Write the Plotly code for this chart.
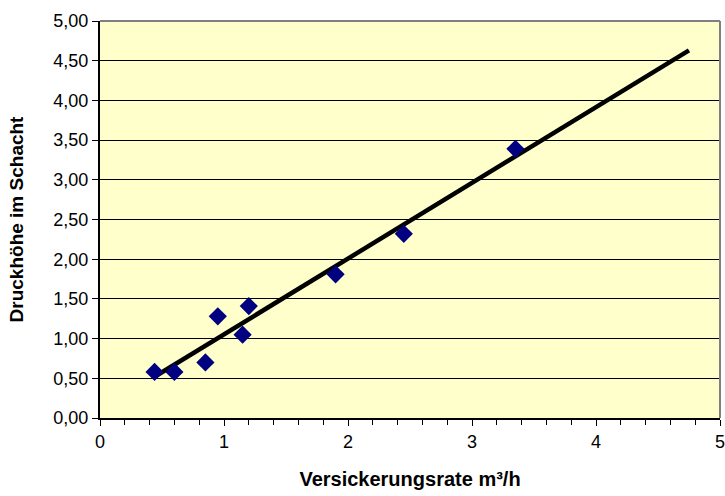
import plotly.graph_objects as go

# Data
rate = [0.44, 0.60, 0.85, 0.95, 1.15, 1.20, 1.90, 2.45, 3.35]
head = [0.58, 0.58, 0.70, 1.28, 1.05, 1.41, 1.81, 2.32, 3.39]
trend_x = [0.44, 4.75]
trend_y = [0.52, 4.63]
y_ticks = [0, 0.5, 1, 1.5, 2, 2.5, 3, 3.5, 4, 4.5, 5]
y_labels = ["0,00", "0,50", "1,00", "1,50", "2,00", "2,50", "3,00", "3,50", "4,00", "4,50", "5,00"]
x_ticks = [0, 1, 2, 3, 4, 5]
x_labels = ["0", "1", "2", "3", "4", "5"]

fig = go.Figure()
fig.add_trace(go.Scatter(x=trend_x, y=trend_y, mode="lines",
                         line=dict(color="black", width=4.5), showlegend=False))
fig.add_trace(go.Scatter(x=rate, y=head, mode="markers",
                         marker=dict(symbol="diamond", color="#000080", size=14,
                                     line=dict(width=0)), showlegend=False))

font = dict(family="Liberation Sans, Arial, sans-serif", size=18, color="black")

fig.update_layout(
    width=725, height=496,
    margin=dict(l=100, r=5, t=21, b=78, autoexpand=False),
    paper_bgcolor="white", plot_bgcolor="#FFFFCC",
    font=font,
    xaxis=dict(range=[0, 5], tickvals=x_ticks, ticktext=x_labels,
               showgrid=False, zeroline=False, showline=True,
               linecolor="black", linewidth=2, ticks="outside", ticklen=6,
               tickcolor="black", tickwidth=1, automargin=False,
               ticklabeloverflow="allow",
               minor=dict(dtick=0.2, ticks="outside", ticklen=5, tickcolor="black", showgrid=False),
               title=dict(text="<b>Versickerungsrate m³/h</b>", standoff=21,
                          font=dict(size=20))),
    yaxis=dict(range=[0, 5], tickvals=y_ticks, ticktext=y_labels,
               showgrid=True, gridcolor="black", gridwidth=1, zeroline=False,
               showline=True, linecolor="black", linewidth=2, automargin=False,
               ticklabeloverflow="allow",
               ticks="outside", ticklen=6, tickcolor="black",
               title=dict(text="<b>Druckhöhe im Schacht</b>", standoff=25,
                          font=dict(size=19))),
    shapes=[
        dict(type="line", xref="paper", yref="paper", x0=0, x1=1, y0=1, y1=1,
             line=dict(color="#808080", width=2)),
        dict(type="line", xref="paper", yref="paper", x0=1, x1=1, y0=0, y1=1,
             line=dict(color="#808080", width=2)),
    ],
)

fig.write_html("out.html", config={"displayModeBar": False},
               post_script="document.body.style.margin='0';")
